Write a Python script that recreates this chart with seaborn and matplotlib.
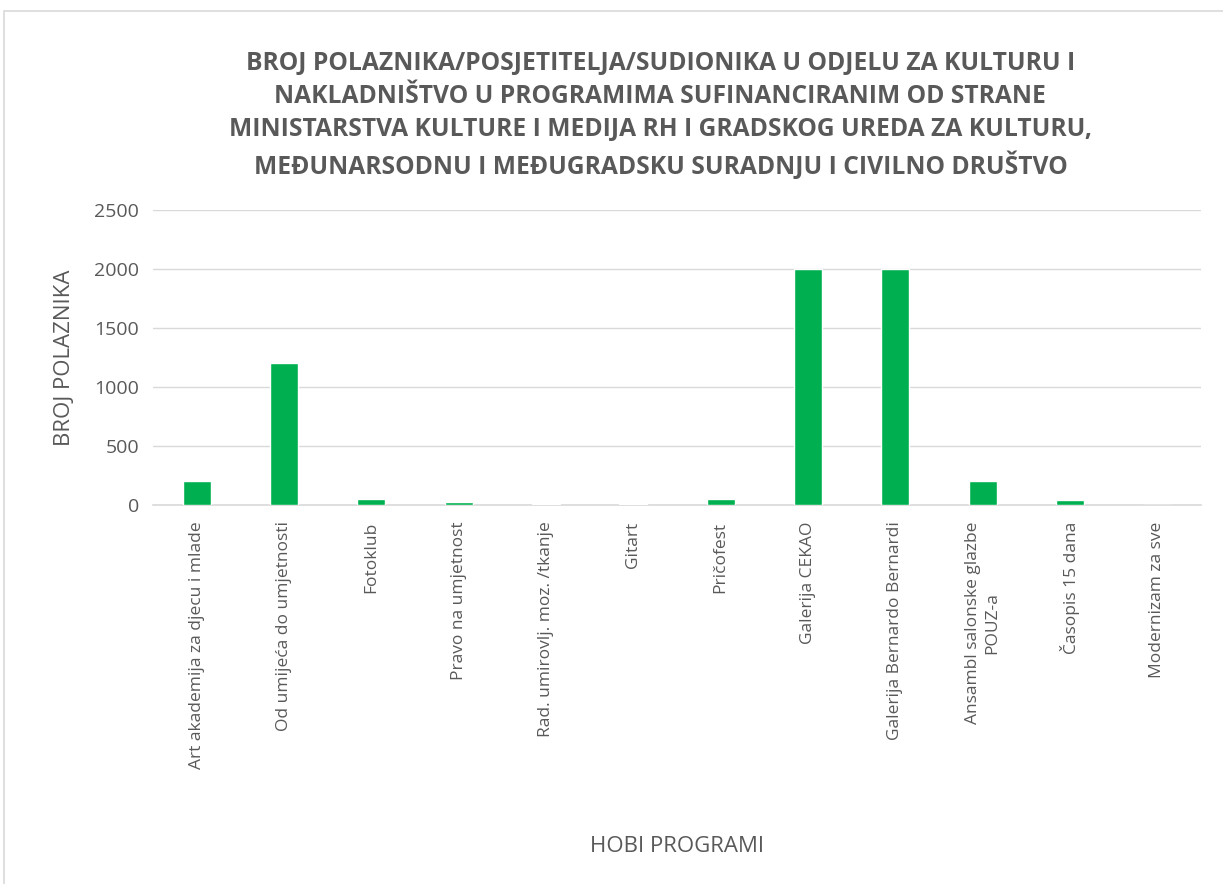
import pandas as pd
import seaborn as sns
import matplotlib.pyplot as plt
from matplotlib.patches import Rectangle

programi = [
    "Art akademija za djecu i mlade",
    "Od umijeća do umjetnosti",
    "Fotoklub",
    "Pravo na umjetnost",
    "Rad. umirovlj. moz. /tkanje",
    "Gitart",
    "Pričofest",
    "Galerija CEKAO",
    "Galerija Bernardo Bernardi",
    "Ansambl salonske glazbe\nPOUZ-a",
    "Časopis 15 dana",
    "Modernizam za sve",
]
polaznici = [200, 1200, 45, 25, 10, 10, 50, 2000, 2000, 200, 40, 0]

df = pd.DataFrame({"program": programi, "polaznici": polaznici})

sns.set_theme(style="white")
plt.rcParams["font.family"] = ["Open Sans", "DejaVu Sans"]

grey = "#595959"
fig, ax = plt.subplots(figsize=(12.23, 8.84), dpi=100)
fig.subplots_adjust(left=0.125, right=0.982, top=0.762, bottom=0.429)

sns.barplot(data=df, x="program", y="polaznici", color="#00b050",
            width=0.32, saturation=1, ax=ax, zorder=3)

ax.set_ylim(0, 2500)
ax.set_yticks(range(0, 2501, 500))
ax.yaxis.grid(True, color="#d9d9d9", linewidth=1, zorder=0)
for s in ["top", "right", "left"]:
    ax.spines[s].set_visible(False)
ax.spines["bottom"].set_color("#d9d9d9")
ax.spines["bottom"].set_linewidth(1.2)
ax.tick_params(axis="y", length=0, labelsize=14, colors=grey, pad=10)
ax.tick_params(axis="x", length=0, labelsize=12.5, colors=grey, pad=12)
plt.setp(ax.get_xticklabels(), rotation=90, ha="center", va="top")

ax.set_xlabel("HOBI PROGRAMI", fontsize=16, color=grey, labelpad=48)
ax.set_ylabel("BROJ POLAZNIKA", fontsize=16, color=grey, labelpad=14)

fig.suptitle("BROJ POLAZNIKA/POSJETITELJA/SUDIONIKA U ODJELU ZA KULTURU I\n"
             "NAKLADNIŠTVO U PROGRAMIMA SUFINANCIRANIM OD STRANE\n"
             "MINISTARSTVA KULTURE I MEDIJA RH I GRADSKOG UREDA ZA KULTURU,\n"
             "MEĐUNARSODNU I MEĐUGRADSKU SURADNJU I CIVILNO DRUŠTVO",
             x=0.54, y=0.942, fontsize=17.7, fontweight="bold", color=grey,
             linespacing=1.42, va="top")

fig.patches.append(Rectangle((0.003, -0.01), 1.1, 0.997, transform=fig.transFigure,
                             fill=False, edgecolor="#d9d9d9", linewidth=1.2))

fig.savefig("out.png", dpi=100, facecolor="white")
